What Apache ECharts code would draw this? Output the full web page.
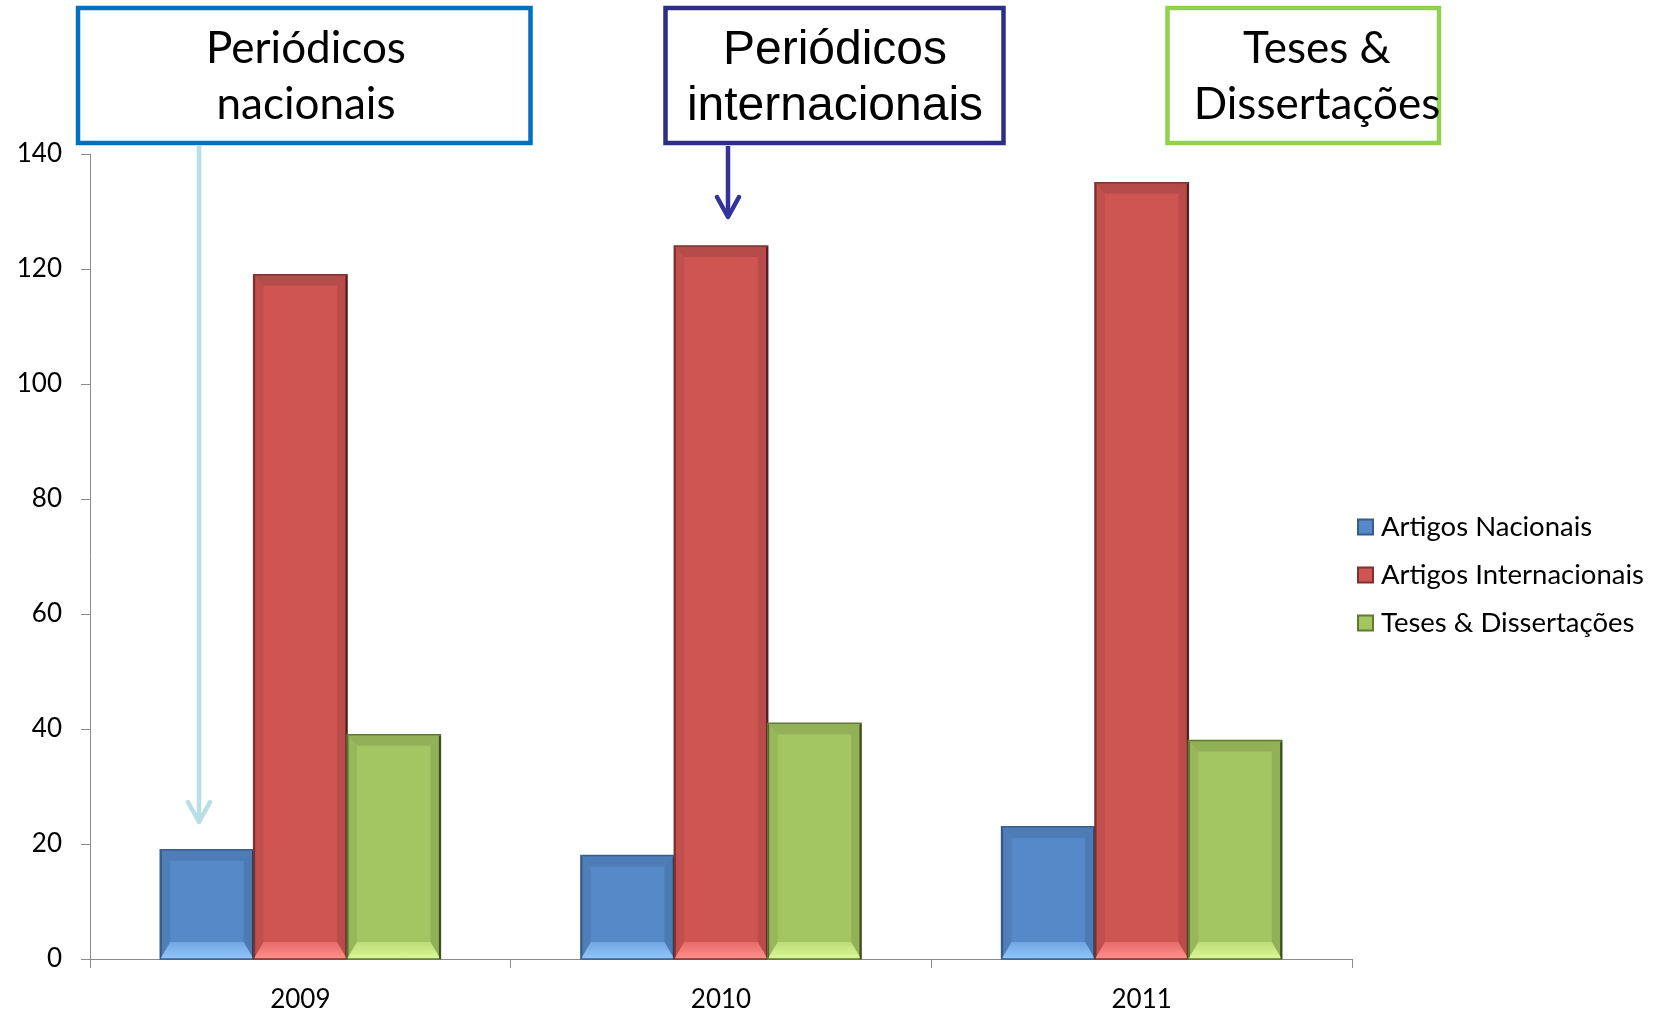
<!DOCTYPE html>
<html><head><meta charset="utf-8">
<script src="https://cdn.jsdelivr.net/npm/echarts@6/dist/echarts.min.js"></script>
<style>html,body{margin:0;padding:0;background:#fff}#c{width:1664px;height:1016px}</style>
</head><body><div id="c"></div>
<script>
const categories = ['2009', '2010', '2011'];
const seriesNames = ['Artigos Nacionais', 'Artigos Internacionais', 'Teses & Dissertações'];
const nacionais = [19, 18, 23];
const internacionais = [119, 124, 135];
const teses = [39, 41, 38];
const yMin = 0, yMax = 140, yStep = 20;

const palettes = [
  {body:'#5589c8', top:'#4d7cb6', bottomTop:'#70a5e2', bottom:'#92c7fb', border:'#3a5c88'},
  {body:'#cf5553', top:'#b64c4a', bottomTop:'#e56c6a', bottom:'#ff8f8c', border:'#7e3230'},
  {body:'#a3c562', top:'#91b057', bottomTop:'#bcdc78', bottom:'#dafa98', border:'#5f7a32'}
];
const CAT_GAP = 0.334;
const allVals = [nacionais, internacionais, teses];

// bevel overlay data: [categoryIndex, value, seriesIndex]
const bevelData = [];
allVals.forEach((vals, s) => vals.forEach((v, j) => bevelData.push([j, v, s])));

function renderBevel(params, api) {
  const j = api.value(0), v = api.value(1), s = api.value(2);
  const base = api.coord([j, 0]);
  const top = api.coord([j, v]);
  const band = api.size([1, 0])[0];
  const n = seriesNames.length;
  const w = band * (1 - CAT_GAP) / n;
  const x0 = base[0] - w * n / 2 + s * w, x1 = x0 + w;
  const y0 = top[1], y1 = base[1];
  const h = y1 - y0;
  const dt = Math.min(11, h / 3), db = Math.min(17, h / 3), ds = 10;
  const p = palettes[s];
  const poly = (pts, fill) => ({type: 'polygon', shape: {points: pts}, style: {fill: fill}, silent: true});
  return {
    type: 'group',
    children: [
      poly([[x0, y0], [x0 + ds, y0 + dt], [x0 + ds, y1 - db], [x0, y1]], 'rgba(0,0,0,0.07)'),
      poly([[x1, y0], [x1 - ds, y0 + dt], [x1 - ds, y1 - db], [x1, y1]], 'rgba(0,0,0,0.10)'),
      poly([[x0, y0], [x1, y0], [x1 - ds, y0 + dt], [x0 + ds, y0 + dt]], p.top),
      poly([[x0, y1], [x1, y1], [x1 - ds, y1 - db], [x0 + ds, y1 - db]],
        new echarts.graphic.LinearGradient(0, 0, 0, 1, [{offset: 0, color: p.bottomTop}, {offset: 1, color: p.bottom}])),
      {type: 'rect', shape: {x: x0, y: y0, width: w, height: h}, style: {fill: null, stroke: p.border, lineWidth: 1.5}, silent: true},
      {type: 'line', shape: {x1: x1 - 0.5, y1: y0 + 1, x2: x1 - 0.5, y2: y1}, style: {stroke: 'rgba(0,0,0,0.35)', lineWidth: 2}, silent: true}
    ]
  };
}

const chart = echarts.init(document.getElementById('c'), null, {renderer: 'canvas'});
const labelFont = 'Lato, "Open Sans", sans-serif';
const series = seriesNames.map((name, i) => ({
  name, type: 'bar', barGap: '0%', barCategoryGap: (CAT_GAP * 100) + '%',
  itemStyle: {color: palettes[i].body, borderColor: palettes[i].border, borderWidth: 1.5},
  data: allVals[i]
}));
series.push({
  type: 'custom', name: 'bevel', renderItem: renderBevel, data: bevelData, z: 3, silent: true,
  encode: {x: 0, y: 1}
});
chart.setOption({
  animation: false,
  backgroundColor: '#fff',
  grid: {left: 90, right: 312, top: 154, bottom: 57, containLabel: false},
  legend: {
    orient: 'vertical', left: 1352, top: 507, itemWidth: 15, itemHeight: 15, itemGap: 18,
    icon: 'rect',
    textStyle: {fontFamily: labelFont, fontSize: 27.5, color: '#000', lineHeight: 30, padding: [0, 0, 0, 3]},
    data: seriesNames
  },
  xAxis: {
    type: 'category', data: categories,
    axisLine: {lineStyle: {color: '#8c8c8c', width: 1}},
    axisTick: {show: true, length: 9, lineStyle: {color: '#8c8c8c'}},
    axisLabel: {fontFamily: labelFont, fontSize: 26, color: '#000', margin: 28}
  },
  yAxis: {
    type: 'value', min: yMin, max: yMax, interval: yStep,
    splitLine: {show: false},
    axisLine: {show: true, lineStyle: {color: '#8c8c8c', width: 1}},
    axisTick: {show: true, length: 9, lineStyle: {color: '#8c8c8c'}},
    axisLabel: {fontFamily: labelFont, fontSize: 26, color: '#000', margin: 28}
  },
  series: series,
  graphic: [
    {type: 'rect', shape: {x: 78, y: 8, width: 452.5, height: 135}, style: {fill: '#fff', stroke: '#0070c0', lineWidth: 4.5}, z: 10},
    {type: 'text', x: 306, y: 49, z: 11, style: {text: 'Periódicos', font: '44px Lato', fill: '#000', textAlign: 'center', textVerticalAlign: 'middle'}},
    {type: 'text', x: 306, y: 105, z: 11, style: {text: 'nacionais', font: '44px Lato', fill: '#000', textAlign: 'center', textVerticalAlign: 'middle'}},
    {type: 'line', shape: {x1: 199, y1: 146, x2: 199, y2: 821}, style: {stroke: '#b7dfe5', lineWidth: 4.5}, z: 10},
    {type: 'polyline', shape: {points: [[188, 802], [199, 822], [210, 802]]}, style: {stroke: '#b7dfe5', lineWidth: 4.5, lineCap: 'round', lineJoin: 'round', fill: null}, z: 10},

    {type: 'rect', shape: {x: 665.5, y: 8, width: 338, height: 135}, style: {fill: '#fff', stroke: '#2e2e85', lineWidth: 4.5}, z: 10},
    {type: 'text', x: 835, y: 51, z: 11, style: {text: 'Periódicos', font: '48px "Liberation Sans"', fill: '#000', textAlign: 'center', textVerticalAlign: 'middle'}},
    {type: 'text', x: 835, y: 107, z: 11, style: {text: 'internacionais', font: '48px "Liberation Sans"', fill: '#000', textAlign: 'center', textVerticalAlign: 'middle'}},
    {type: 'line', shape: {x1: 728, y1: 146, x2: 728, y2: 216}, style: {stroke: '#333399', lineWidth: 4.5}, z: 10},
    {type: 'polyline', shape: {points: [[717, 197], [728, 217], [739, 197]]}, style: {stroke: '#333399', lineWidth: 4.5, lineCap: 'round', lineJoin: 'round', fill: null}, z: 10},

    {type: 'rect', shape: {x: 1167.5, y: 8, width: 271.5, height: 135}, style: {fill: '#fff', stroke: '#92d050', lineWidth: 4.5}, z: 10},
    {type: 'text', x: 1317, y: 49, z: 11, style: {text: 'Teses &', font: '44px Lato', fill: '#000', textAlign: 'center', textVerticalAlign: 'middle'}},
    {type: 'text', x: 1317, y: 105, z: 11, style: {text: 'Dissertações', font: '44px Lato', fill: '#000', textAlign: 'center', textVerticalAlign: 'middle'}}
  ]
});
</script></body></html>
